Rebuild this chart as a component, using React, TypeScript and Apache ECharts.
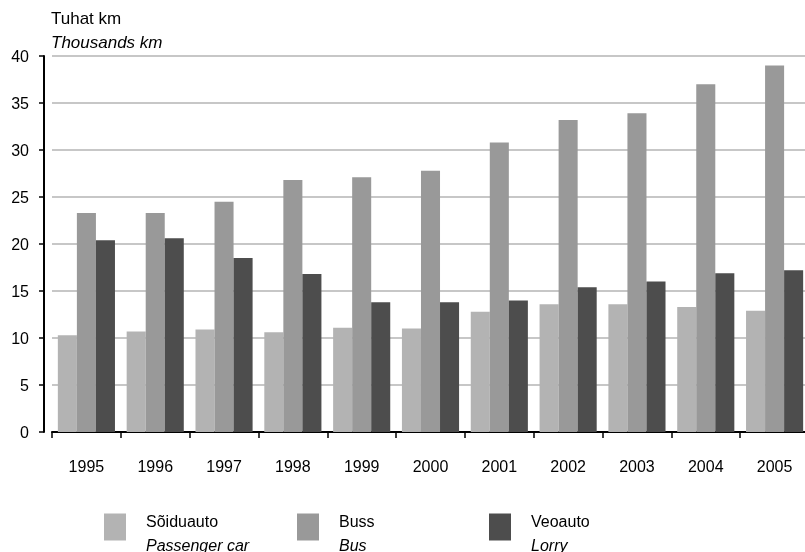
import React, { useEffect, useRef } from "react";
import * as echarts from "echarts";

const years = ["1995", "1996", "1997", "1998", "1999", "2000", "2001", "2002", "2003", "2004", "2005"];
const passengerCar = [10.3, 10.7, 10.9, 10.6, 11.1, 11.0, 12.8, 13.6, 13.6, 13.3, 12.9];
const bus = [23.3, 23.3, 24.5, 26.8, 27.1, 27.8, 30.8, 33.2, 33.9, 37.0, 39.0];
const lorry = [20.4, 20.6, 18.5, 16.8, 13.8, 13.8, 14.0, 15.4, 16.0, 16.9, 17.2];

const seriesNames = ["Sõiduauto", "Buss", "Veoauto"];
const seriesNamesEn = ["Passenger car", "Bus", "Lorry"];
const colors = ["#b3b3b3", "#999999", "#4d4d4d"];
const FONT = "'Liberation Sans', Arial, sans-serif";

export default function App() {
  const ref = useRef<HTMLDivElement>(null);
  useEffect(() => {
    const chart = echarts.init(ref.current!, null, { renderer: "svg" });
    const data = [passengerCar, bus, lorry];
    const legendLefts = [99, 292, 484];
    chart.setOption({
      animation: false,
      textStyle: { fontFamily: FONT },
      grid: { left: 52, right: 0, top: 56, bottom: 120, containLabel: false },
      graphic: [
        { type: "text", x: 51, y: 18, style: { text: "Tuhat km", font: `17px ${FONT}`, fill: "#000", verticalAlign: "middle" } },
        { type: "text", x: 51, y: 42, style: { text: "Thousands km", font: `italic 17px ${FONT}`, fill: "#000", verticalAlign: "middle" } },
      ],
      legend: seriesNames.map((n, i) => ({
        left: legendLefts[i],
        top: 508,
        orient: "vertical",
        itemWidth: 22,
        itemHeight: 27,
        icon: "rect",
        selectedMode: false,
        data: [n],
        formatter: (name: string) => `{a|${name}}\n{b|${seriesNamesEn[seriesNames.indexOf(name)]}}`,
        textStyle: {
          fontFamily: FONT,
          padding: [12, 0, 0, 15],
          rich: {
            a: { fontSize: 16, lineHeight: 24, fontFamily: FONT, color: "#000" },
            b: { fontSize: 16, lineHeight: 24, fontFamily: FONT, fontStyle: "italic", color: "#000" },
          },
        },
      })),
      xAxis: {
        type: "category",
        data: years,
        offset: 8,
        axisLine: { lineStyle: { color: "#000", width: 2 } },
        axisTick: { show: true, length: 6, lineStyle: { color: "#000", width: 1.5 } },
        axisLabel: { color: "#000", fontSize: 16, margin: 18, fontFamily: FONT },
      },
      yAxis: {
        type: "value",
        min: 0,
        max: 40,
        interval: 5,
        offset: 8,
        axisLine: { show: true, lineStyle: { color: "#000", width: 2 } },
        axisTick: { show: true, length: 5, lineStyle: { color: "#000", width: 1.5 } },
        axisLabel: { color: "#000", fontSize: 16, margin: 15, fontFamily: FONT },
        splitLine: { show: true, lineStyle: { color: "#b4b4b4", width: 1.5 } },
      },
      series: seriesNames.map((n, i) => ({
        name: n,
        type: "bar",
        data: data[i],
        barGap: "0%",
        barCategoryGap: "17%",
        itemStyle: { color: colors[i] },
      })),
    });
    return () => chart.dispose();
  }, []);
  return (
    <div style={{ position: "fixed", left: 0, top: 0, width: 805, height: 552, overflow: "hidden" }}>
      <div ref={ref} style={{ width: 809, height: 552 }} />
    </div>
  );
}
